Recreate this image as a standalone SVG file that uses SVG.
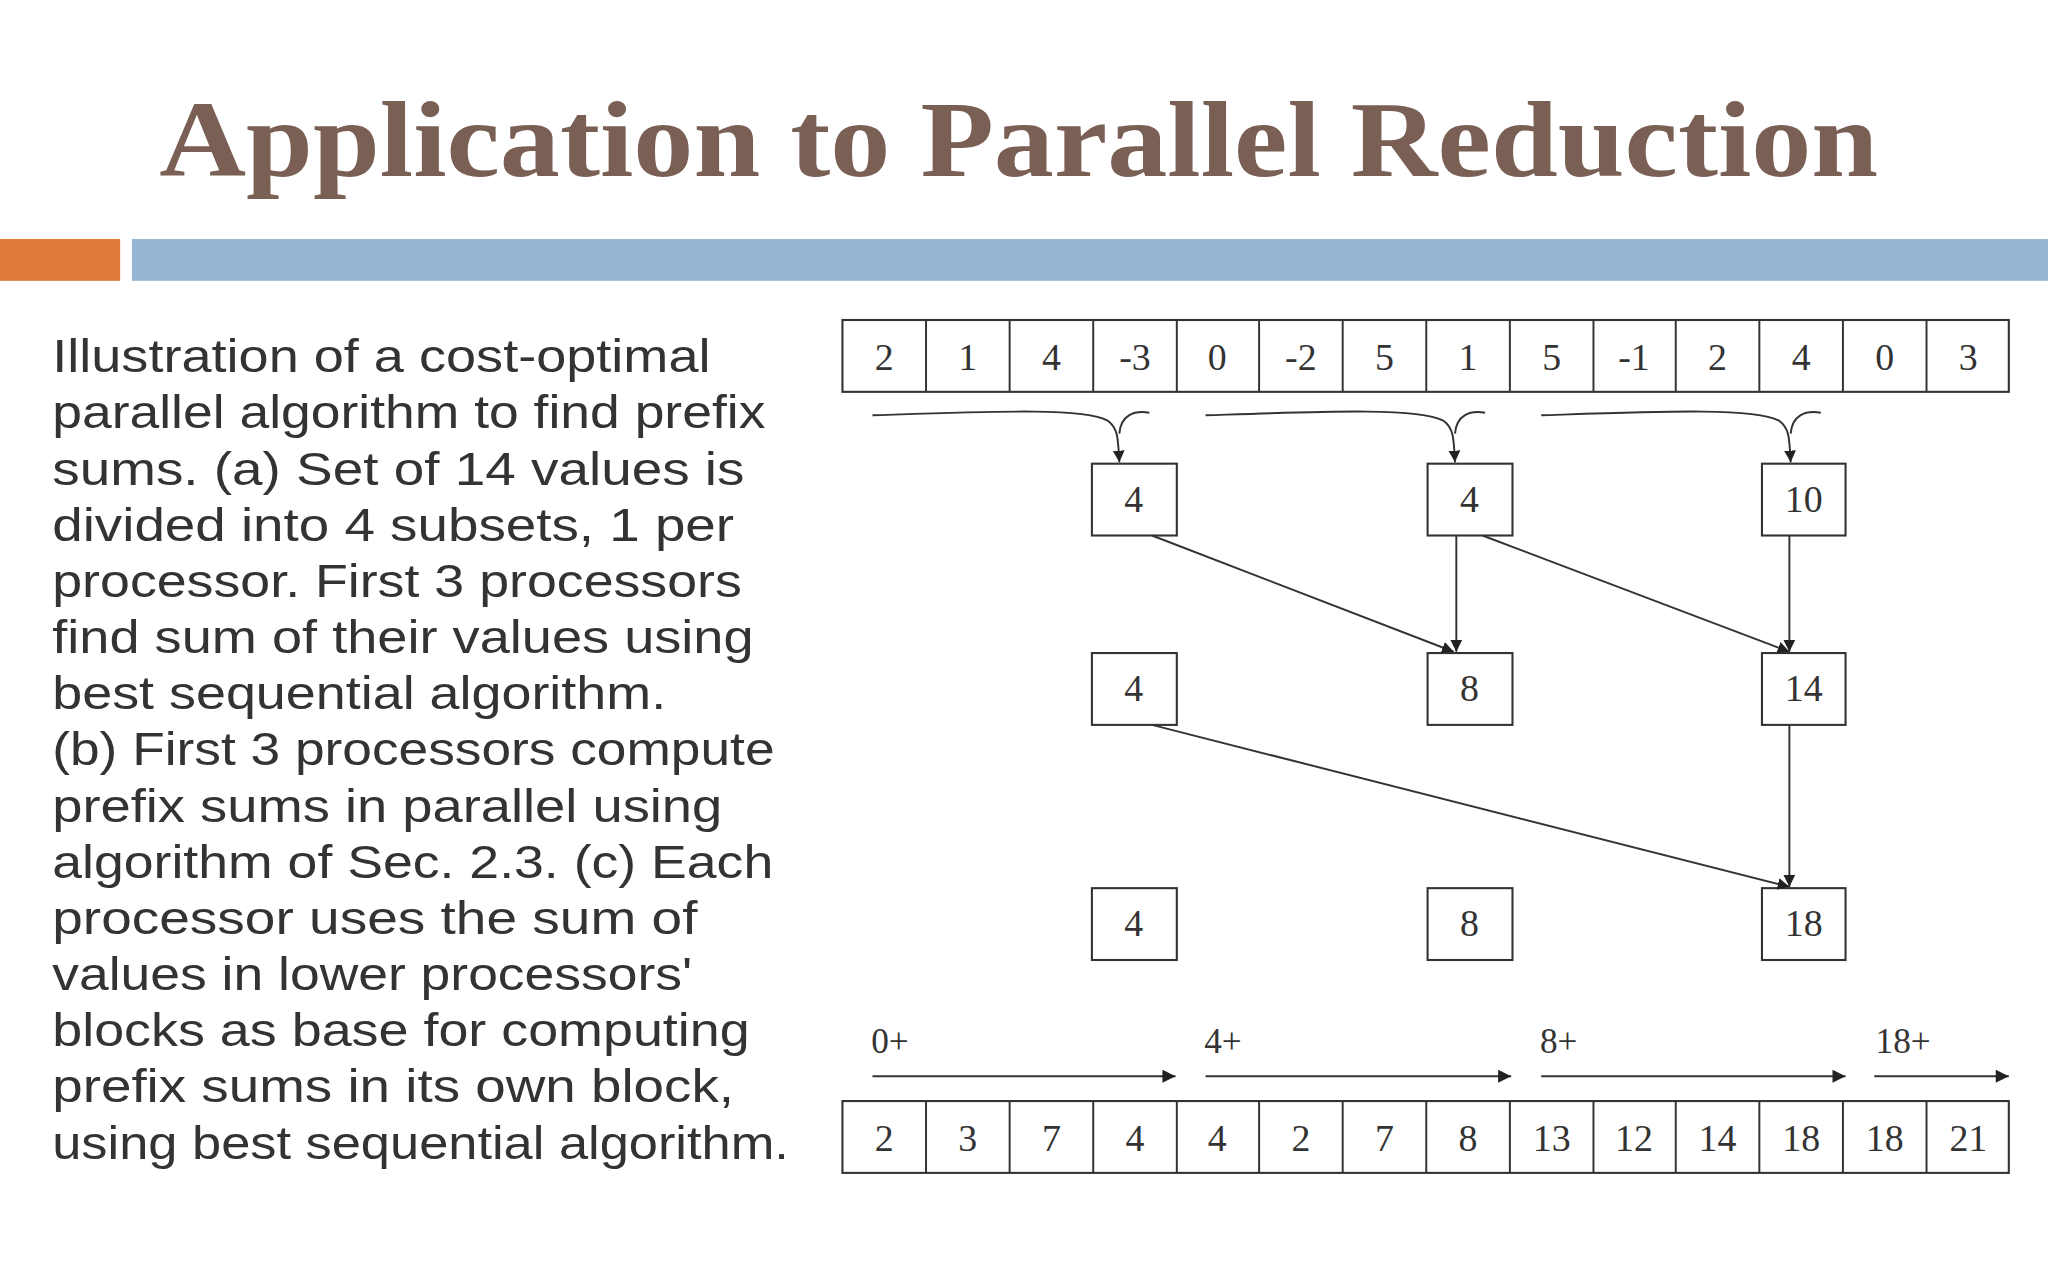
<svg xmlns="http://www.w3.org/2000/svg" width="2048" height="1280" viewBox="0 0 2048 1280">
<defs>
<marker id="ah" viewBox="0 0 10 10" refX="10" refY="5" markerWidth="9" markerHeight="10" markerUnits="userSpaceOnUse" orient="auto"><path d="M0,0 L10,5 L0,10 z" fill="#222"/></marker>
<marker id="ah2" viewBox="0 0 10 10" refX="10" refY="5" markerWidth="12" markerHeight="10" markerUnits="userSpaceOnUse" orient="auto"><path d="M0,0 L10,5 L0,10 z" fill="#222"/></marker>
<style>
.cell{fill:#fff;stroke:#333;stroke-width:1.6}
.num{font-family:"Liberation Serif",serif;font-size:29px;fill:#333;text-anchor:middle}
.body{font-family:"Liberation Sans",Arial,sans-serif;font-size:36px;fill:#333}
.ln{fill:none;stroke:#333;stroke-width:1.5}
</style>
</defs>
<rect width="2048" height="1280" fill="#fff"/>
<g transform="scale(1.30612)">
<g id="title"><text x="122" y="135" font-family="Liberation Serif,serif" font-weight="bold" font-size="82" fill="#7a5f55" textLength="1316" lengthAdjust="spacingAndGlyphs">Application to Parallel Reduction</text></g>
<rect x="0" y="183" width="92" height="32" fill="#e07b39"/>
<rect x="101" y="183" width="1467" height="32" fill="#94b6d2"/>
<g id="caption" class="body">
<text x="40" y="285" textLength="504" lengthAdjust="spacingAndGlyphs">Illustration of a cost-optimal</text>
<text x="40" y="328" textLength="546" lengthAdjust="spacingAndGlyphs">parallel algorithm to find prefix</text>
<text x="40" y="371" textLength="530" lengthAdjust="spacingAndGlyphs">sums. (a) Set of 14 values is</text>
<text x="40" y="414" textLength="522" lengthAdjust="spacingAndGlyphs">divided into 4 subsets, 1 per</text>
<text x="40" y="457" textLength="528" lengthAdjust="spacingAndGlyphs">processor. First 3 processors</text>
<text x="40" y="500" textLength="537" lengthAdjust="spacingAndGlyphs">find sum of their values using</text>
<text x="40" y="543" textLength="470" lengthAdjust="spacingAndGlyphs">best sequential algorithm.</text>
<text x="40" y="586" textLength="553" lengthAdjust="spacingAndGlyphs">(b) First 3 processors compute</text>
<text x="40" y="629" textLength="513" lengthAdjust="spacingAndGlyphs">prefix sums in parallel using</text>
<text x="40" y="672" textLength="552" lengthAdjust="spacingAndGlyphs">algorithm of Sec. 2.3. (c) Each</text>
<text x="40" y="715" textLength="494" lengthAdjust="spacingAndGlyphs">processor uses the sum of</text>
<text x="40" y="758" textLength="490" lengthAdjust="spacingAndGlyphs">values in lower processors'</text>
<text x="40" y="801" textLength="534" lengthAdjust="spacingAndGlyphs">blocks as base for computing</text>
<text x="40" y="844" textLength="522" lengthAdjust="spacingAndGlyphs">prefix sums in its own block,</text>
<text x="40" y="887" textLength="564" lengthAdjust="spacingAndGlyphs">using best sequential algorithm.</text>
</g>
<g id="input-array">
<rect class="cell" x="645" y="245" width="893" height="55"/>
<path class="ln" d="M709,245V300M773,245V300M837,245V300M901,245V300M964,245V300M1028,245V300M1092,245V300M1156,245V300M1220,245V300M1283,245V300M1347,245V300M1411,245V300M1475,245V300"/>
<g class="num">
<text x="677" y="283">2</text><text x="741" y="283">1</text><text x="805" y="283">4</text><text x="869" y="283">-3</text><text x="932" y="283">0</text><text x="996" y="283">-2</text><text x="1060" y="283">5</text><text x="1124" y="283">1</text><text x="1188" y="283">5</text><text x="1251" y="283">-1</text><text x="1315" y="283">2</text><text x="1379" y="283">4</text><text x="1443" y="283">0</text><text x="1507" y="283">3</text>
</g></g>
<g id="nodes">
<g id="a1"><rect class="cell" x="836" y="355" width="65" height="55"/><text class="num" x="868" y="392">4</text></g>
<g id="a2"><rect class="cell" x="1093" y="355" width="65" height="55"/><text class="num" x="1125" y="392">4</text></g>
<g id="a3"><rect class="cell" x="1349" y="355" width="64" height="55"/><text class="num" x="1381" y="392">10</text></g>
<g id="b1"><rect class="cell" x="836" y="500" width="65" height="55"/><text class="num" x="868" y="537">4</text></g>
<g id="b2"><rect class="cell" x="1093" y="500" width="65" height="55"/><text class="num" x="1125" y="537">8</text></g>
<g id="b3"><rect class="cell" x="1349" y="500" width="64" height="55"/><text class="num" x="1381" y="537">14</text></g>
<g id="c1"><rect class="cell" x="836" y="680" width="65" height="55"/><text class="num" x="868" y="717">4</text></g>
<g id="c2"><rect class="cell" x="1093" y="680" width="65" height="55"/><text class="num" x="1125" y="717">8</text></g>
<g id="c3"><rect class="cell" x="1349" y="680" width="64" height="55"/><text class="num" x="1381" y="717">18</text></g>
</g>
<g id="connectors">
<path class="ln" marker-end="url(#ah)" d="M668,318 C760,315 830,312 848,322 C856,328 856,335 857,354"/>
<path class="ln" d="M857,332 C858,318 868,314 880,316"/>
<path class="ln" marker-end="url(#ah)" d="M923,318 C1015,315 1085,312 1105,322 C1113,328 1113,335 1114,354"/>
<path class="ln" d="M1114,332 C1115,318 1125,314 1137,316"/>
<path class="ln" marker-end="url(#ah)" d="M1180,318 C1272,315 1342,312 1362,322 C1370,328 1370,335 1371,354"/>
<path class="ln" d="M1371,332 C1372,318 1382,314 1394,316"/>
<line class="ln" marker-end="url(#ah)" x1="882" y1="410" x2="1113" y2="499"/>
<line class="ln" marker-end="url(#ah)" x1="1115" y1="410" x2="1115" y2="499"/>
<line class="ln" marker-end="url(#ah)" x1="1135" y1="410" x2="1370" y2="499"/>
<line class="ln" marker-end="url(#ah)" x1="1370" y1="410" x2="1370" y2="499"/>
<line class="ln" marker-end="url(#ah)" x1="882" y1="555" x2="1370" y2="679"/>
<line class="ln" marker-end="url(#ah)" x1="1370" y1="555" x2="1370" y2="679"/>
<line class="ln" stroke-width="2" marker-end="url(#ah2)" x1="668" y1="824" x2="900" y2="824"/>
<line class="ln" stroke-width="2" marker-end="url(#ah2)" x1="923" y1="824" x2="1157" y2="824"/>
<line class="ln" stroke-width="2" marker-end="url(#ah2)" x1="1180" y1="824" x2="1413" y2="824"/>
<line class="ln" stroke-width="2" marker-end="url(#ah2)" x1="1435" y1="824" x2="1538" y2="824"/>
</g>
<g id="offset-labels" class="num" style="text-anchor:start;font-size:27px">
<text x="667" y="806">0+</text><text x="922" y="806">4+</text><text x="1179" y="806">8+</text><text x="1436" y="806">18+</text>
</g>
<g id="output-array">
<rect class="cell" x="645" y="843" width="893" height="55"/>
<path class="ln" d="M709,843V898M773,843V898M837,843V898M901,843V898M964,843V898M1028,843V898M1092,843V898M1156,843V898M1220,843V898M1283,843V898M1347,843V898M1411,843V898M1475,843V898"/>
<g class="num">
<text x="677" y="881">2</text><text x="741" y="881">3</text><text x="805" y="881">7</text><text x="869" y="881">4</text><text x="932" y="881">4</text><text x="996" y="881">2</text><text x="1060" y="881">7</text><text x="1124" y="881">8</text><text x="1188" y="881">13</text><text x="1251" y="881">12</text><text x="1315" y="881">14</text><text x="1379" y="881">18</text><text x="1443" y="881">18</text><text x="1507" y="881">21</text>
</g></g>
</g>
</svg>
